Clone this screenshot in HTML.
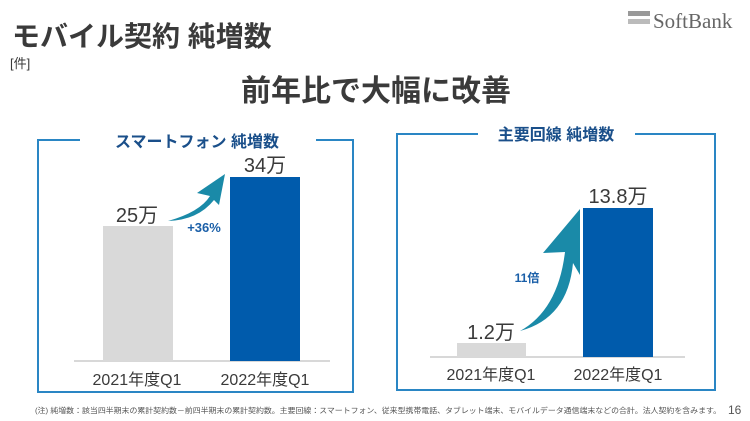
<!DOCTYPE html>
<html><head><meta charset="utf-8"><style>
body{margin:0;background:#fff;}
svg{display:block;font-family:"Liberation Sans","Noto Sans CJK JP",sans-serif;}
</style></head><body>
<svg width="750" height="421" viewBox="0 0 750 421">
<!-- logo -->
<rect x="628" y="11" width="22" height="5" fill="#999"/>
<rect x="628" y="19" width="22" height="5" fill="#bbb"/>
<text x="653" y="28" font-family="Liberation Serif,serif" font-size="21" fill="#666">SoftBank</text>
<text x="12" y="46" font-size="28" font-weight="bold" fill="#3a3a3a">モバイル契約 純増数</text>
<text x="10" y="68" font-size="13" fill="#3a3a3a">[件]</text>
<text x="376" y="101" font-size="30" font-weight="bold" fill="#3a3a3a" text-anchor="middle">前年比で大幅に改善</text>
<!-- left box -->
<path d="M80 140 H38 V392 H353 V140 H316" fill="none" stroke="#2a86c4" stroke-width="2"/>
<text x="197" y="147" font-size="16" font-weight="bold" fill="#1a4f8a" text-anchor="middle">スマートフォン 純増数</text>
<line x1="74" y1="361" x2="330" y2="361" stroke="#ccc" stroke-width="1.5"/>
<rect x="103" y="226" width="70" height="135" fill="#d9d9d9"/>
<rect x="230" y="177" width="70" height="184" fill="#005bac"/>
<text x="137" y="222" font-size="20" fill="#3a3a3a" text-anchor="middle">25万</text>
<text x="265" y="172" font-size="20" fill="#3a3a3a" text-anchor="middle">34万</text>
<text x="137" y="385" font-size="16" fill="#3a3a3a" text-anchor="middle">2021年度Q1</text>
<text x="265" y="385" font-size="16" fill="#3a3a3a" text-anchor="middle">2022年度Q1</text>
<path d="M168 221 Q200 212 210 196 L197 193 L225 174 L219 205 L214 200 Q198 220 168 221 Z" fill="#1a8aa8"/>
<text x="204" y="232" font-size="13" font-weight="bold" fill="#1a5fa8" text-anchor="middle">+36%</text>
<!-- right box -->
<path d="M478 134 H397 V390 H715 V134 H635" fill="none" stroke="#2a86c4" stroke-width="2"/>
<text x="556" y="140" font-size="16" font-weight="bold" fill="#1a4f8a" text-anchor="middle">主要回線 純増数</text>
<line x1="430" y1="357" x2="685" y2="357" stroke="#ccc" stroke-width="1.5"/>
<rect x="457" y="343" width="69" height="14" fill="#d9d9d9"/>
<rect x="583" y="208" width="70" height="149" fill="#005bac"/>
<text x="491" y="339" font-size="20" fill="#3a3a3a" text-anchor="middle">1.2万</text>
<text x="618" y="203" font-size="20" fill="#3a3a3a" text-anchor="middle">13.8万</text>
<text x="491" y="380" font-size="16" fill="#3a3a3a" text-anchor="middle">2021年度Q1</text>
<text x="618" y="380" font-size="16" fill="#3a3a3a" text-anchor="middle">2022年度Q1</text>
<path d="M520 331 Q558 310 565 252 L543 253 L580 209 L580 275 L573 263 Q568 318 520 331 Z" fill="#1a8aa8"/>
<text x="527" y="282" font-size="12" font-weight="bold" fill="#1a5fa8" text-anchor="middle">11倍</text>
<!-- footer -->
<text x="35" y="413" font-size="7.6" fill="#555" textLength="686" lengthAdjust="spacingAndGlyphs">(注) 純増数：該当四半期末の累計契約数－前四半期末の累計契約数。主要回線：スマートフォン、従来型携帯電話、タブレット端末、モバイルデータ通信端末などの合計。法人契約を含みます。</text>
<text x="728" y="414" font-size="12" fill="#555">16</text>
</svg>
</body></html>
